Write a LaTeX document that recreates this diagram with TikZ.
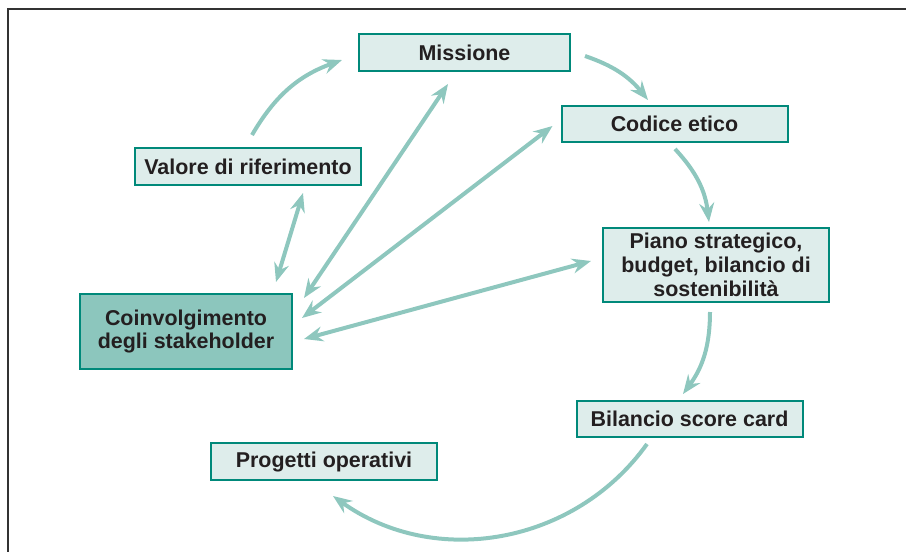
\documentclass[tikz,border=0pt]{standalone}
\usepackage{fontspec}
\setmainfont{Liberation Sans}
\usetikzlibrary{arrows.meta, calc}

\definecolor{bordo}{HTML}{00897A}
\definecolor{chiaro}{HTML}{DEEDEB}
\definecolor{medio}{HTML}{8CC6BD}
\definecolor{freccia}{HTML}{8EC7BE}
\definecolor{testo}{HTML}{231F20}

\begin{document}
\begin{tikzpicture}[
  x=0.2mm, y=-0.2mm,
  box/.style={rectangle, draw=bordo, line width=0.4mm, fill=chiaro,
              minimum width=45.2mm, minimum height=7.4mm, inner sep=1.5pt,
              align=center, text=testo,
              font=\fontsize{12.2}{13.6}\selectfont\bfseries},
  tip/.tip={Stealth[length=3.8mm, width=3mm, inset=1.3mm]},
  flow/.style={draw=freccia, line width=0.8mm, -tip},
  both/.style={flow, tip-tip},
]
\useasboundingbox (0,0) rectangle (906,552);

% ---- cornice ----
\draw[line width=0.3mm, draw=black!80] (8,552) -- (8,9) -- (906,9);

% ---- blocchi ----
\node[box, minimum width=42.2mm] (missione) at (464.5,52.5) {Missione};

\node[box, minimum height=7.2mm] (codice) at (674.5,124) {Codice etico};

\node[box, minimum height=14.8mm] (piano) at (716,265) {Piano strategico,\\budget, bilancio di\\sostenibilità};

\node[box, minimum height=7.2mm] (bilancio) at (689.5,419) {Bilancio score card};

\node[box] (progetti) at (324,461.5) {Progetti operativi};

\node[box] (valore) at (248,166.5) {Valore di riferimento};

\node[box, fill=medio, minimum width=42.4mm, minimum height=15mm] (coinv) at (186,331.5) {Coinvolgimento\\degli stakeholder};

% ---- ciclo ----
\draw[flow] ($(valore.north)+(4,-12)$) to[bend left=20] ($(missione.west)+(-16,7.5)$);
\draw[flow] ($(missione.east)+(14,3.5)$) to[bend left=16] ($(codice.north)+(-26.5,-5)$);
\draw[flow] ($(codice.south)+(0.5,6)$) to[bend left=18] ($(piano.north)+(-7,-5)$);
\draw[flow] ($(piano.south)+(-6,9)$) to[bend left=18] ($(bilancio.north)+(-6.5,-6)$);
\draw[flow] ($(bilancio.south)+(-42.5,6)$) to[bend left=45] ($(progetti.south)+(9,15)$);

% ---- coinvolgimento ----
\draw[both] ($(coinv.north east)+(-17,-11)$) -- ($(valore.south)+(55,7)$);
\draw[both] ($(coinv.north east)+(11,5)$) -- ($(missione.south)+(-16.5,12)$);
\draw[both] ($(coinv.east)+(9,-13.5)$) -- ($(codice.west)+(-8,2)$);
\draw[both] ($(coinv.east)+(11,7.5)$) -- ($(piano.west)+(-11,-4)$);

\end{tikzpicture}
\end{document}
